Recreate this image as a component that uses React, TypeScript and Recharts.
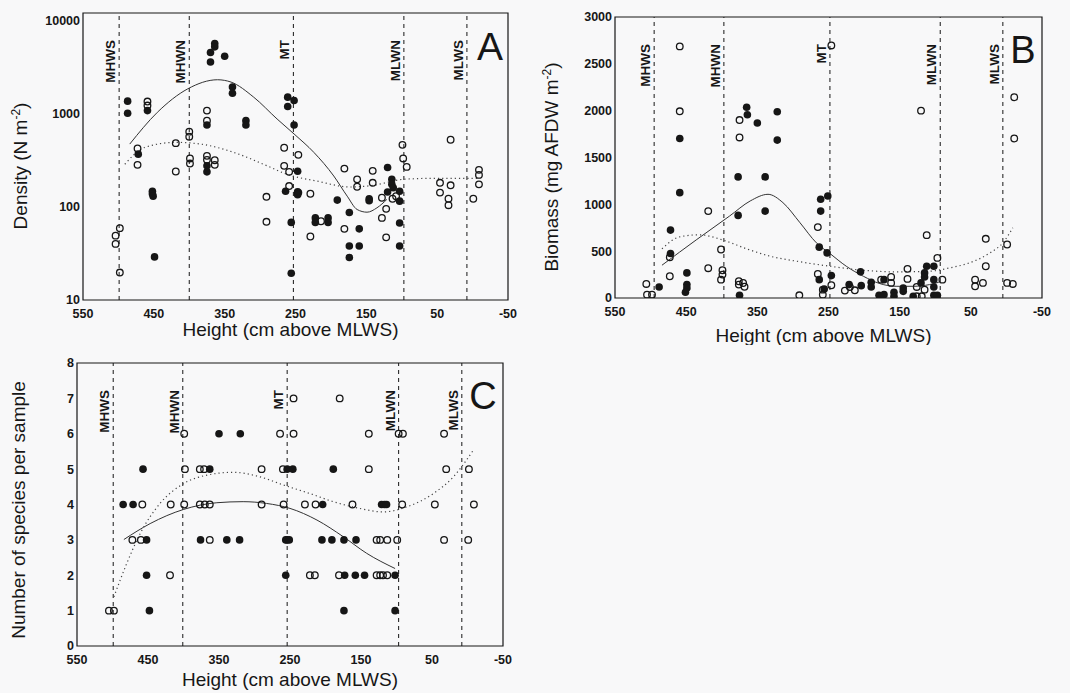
import React from 'react';
import { ComposedChart, Scatter, Line, XAxis, YAxis, ReferenceLine, ReferenceArea } from 'recharts';

const FONT = '"Liberation Sans", Arial, Helvetica, sans-serif';
const INK = '#161616';

type Pt = { h: number; v: number };
const pts = (arr: number[][]): Pt[] => arr.map(([h, v]) => ({ h, v }));

// ---- shared axis values ----
const heightTicks = [550, 450, 350, 250, 150, 50, -50];
const tideNames = ['MHWS', 'MHWN', 'MT', 'MLWN', 'MLWS'];
const tideA = [499, 400, 253, 97, 8];
const tideB = [495, 397, 248, 93, 5];
const tideC = [499, 401, 254, 97, 8];
const densityTicks = [10, 100, 1000, 10000];
const biomassTicks = [0, 500, 1000, 1500, 2000, 2500, 3000];
const speciesTicks = [0, 1, 2, 3, 4, 5, 6, 7, 8];

// ---- Panel A: density (height, N m-2) ----
const densityFilled = pts([
  [487, 1360], [487, 1010], [472, 367], [459, 1077], [452, 147], [452, 138], [451, 130], [449, 29],
  [375, 755], [375, 275], [375, 237], [370, 3580], [370, 4520], [364, 5650], [364, 5200], [350, 4120],
  [339, 1923], [339, 1655], [320, 840], [320, 755],
  [261, 1500], [261, 1190], [252, 1380], [252, 755], [264, 147], [256, 68], [256, 19.4], [247, 241],
  [247, 145], [247, 135], [222, 76], [222, 68], [204, 76], [204, 68], [191, 118], [174, 87], [174, 38],
  [174, 28.6], [160, 58], [160, 38], [146, 122], [146, 116], [120, 264], [120, 144], [114, 197],
  [114, 174], [112, 160], [103, 147], [103, 115], [103, 67], [103, 38],
]);
const densityOpen = pts([
  [504, 49], [504, 40], [498, 59], [498, 19.7], [473, 282], [473, 423], [459, 1347], [459, 1219],
  [419, 239], [419, 482], [400, 640], [400, 565], [399, 330], [399, 291],
  [375, 1077], [375, 840], [375, 352], [375, 319], [364, 316], [364, 282],
  [291, 128], [291, 69], [266, 430], [266, 275], [259, 237], [259, 167], [246, 361], [246, 142],
  [229, 138], [229, 48], [214, 70], [181, 257], [181, 58], [163, 164], [163, 197], [141, 243],
  [141, 181], [128, 125], [128, 76], [122, 95], [122, 47], [113, 122], [108, 130],
  [99, 462], [98, 330], [93, 268], [46, 181], [46, 142], [34, 122], [34, 104], [31, 524], [31, 170],
  [-1, 122], [-9, 249], [-9, 220], [-9, 174],
]);
const densitySolidFit = pts([
  [484, 471], [445, 1032], [402, 1845], [360, 2307], [341, 2178], [309, 1500], [276, 875],
  [252, 604], [224, 383], [196, 214], [177, 130], [163, 93.5], [149, 87.5], [135, 97.5], [121, 120],
]);
const densityDottedFit = pts([
  [491, 286], [463, 433], [419, 491], [384, 471], [337, 383], [290, 275], [262, 223],
  [220, 189], [173, 163], [140, 170], [98, 197], [55, 202], [-10, 202],
]);

// ---- Panel B: biomass (height, mg AFDW m-2) ----
const biomassFilled = pts([
  [488, 118], [472, 725], [472, 475], [459, 1125], [459, 1703], [449, 268], [449, 143], [449, 107],
  [451, 61], [377, 882], [377, 1293], [375, 29], [365, 2036], [364, 1957], [350, 1868], [339, 1293],
  [339, 928], [322, 1989], [322, 1686], [261, 1054], [261, 928], [251, 1089], [263, 543], [252, 482],
  [263, 196], [256, 96], [246, 239], [221, 143], [204, 132], [205, 279], [190, 168], [190, 118],
  [179, 29], [172, 36], [172, 196], [158, 61], [158, 18], [145, 107], [145, 71], [131, 18], [120, 161],
  [115, 268], [115, 225], [112, 339], [102, 339], [102, 196], [102, 118], [102, 29], [97, 29],
]);
const biomassOpen = pts([
  [506, 150], [505, 36], [498, 36], [459, 2686], [459, 1993], [473, 435], [473, 232], [419, 928],
  [419, 318], [401, 518], [401, 196], [399, 296], [399, 250], [375, 1900], [375, 1714], [376, 179],
  [376, 143], [370, 160], [368, 120], [291, 29], [265, 757], [265, 257], [258, 89], [258, 36],
  [246, 2696], [246, 136], [227, 79], [220, 118], [213, 82], [176, 196], [162, 225], [162, 161],
  [139, 311], [139, 204], [126, 118], [126, 18], [120, 2000], [119, 18], [112, 671], [115, 89],
  [97, 428], [90, 196], [44, 196], [44, 125], [33, 161], [29, 632], [29, 339], [-1, 571], [-1, 161],
  [-9, 150], [-11, 2143], [-11, 1703],
]);
const biomassSolidFit = pts([
  [484, 350], [435, 625], [389, 875], [360, 1036], [335, 1107], [314, 1018], [290, 803], [267, 589],
  [248, 475], [225, 339], [201, 232], [178, 154], [155, 125], [131, 125], [108, 143], [95, 168],
]);
const biomassDottedFit = pts([
  [484, 525], [459, 653], [431, 675], [398, 618], [365, 525], [332, 446], [295, 393], [248, 339],
  [201, 296], [155, 279], [108, 286], [80, 321], [52, 375], [23, 482], [5, 589], [-9, 750],
]);

// ---- Panel C: number of species per sample ----
const speciesFilled = pts([
  [485, 4], [471, 4], [457, 5], [452, 3], [452, 2], [448, 1], [376, 3], [363, 5], [350, 6], [339, 3],
  [321, 3], [320, 6], [256, 3], [254, 3], [251, 3], [256, 2], [254, 5], [246, 5], [204, 4], [205, 3],
  [191, 3], [189, 5], [174, 3], [174, 1], [173, 2], [157, 3], [158, 2], [145, 2], [121, 4], [117, 4],
  [114, 4], [102, 2], [102, 1],
]);
const speciesOpen = pts([
  [505, 1], [498, 1], [472, 3], [460, 3], [458, 4], [419, 2], [418, 4], [399, 4], [399, 6], [398, 5],
  [377, 5], [371, 5], [377, 4], [370, 4], [363, 4], [363, 3], [290, 5], [290, 4], [264, 6], [260, 5],
  [259, 4], [245, 7], [245, 6], [229, 4], [222, 2], [215, 2], [214, 4], [181, 2], [180, 7], [162, 4],
  [139, 6], [139, 5], [128, 3], [123, 3], [113, 3], [128, 2], [123, 2], [119, 2], [113, 2], [99, 3],
  [97, 6], [91, 6], [92, 4], [46, 4], [33, 3], [33, 6], [30, 5], [-1, 3], [-2, 5], [-9, 4],
]);
const speciesSolidFit = pts([
  [484, 3.01], [447, 3.46], [400, 3.86], [353, 4.05], [316, 4.08], [283, 4.03], [250, 3.89],
  [212, 3.56], [175, 3.09], [142, 2.62], [102, 2.19],
]);
const speciesDottedFit = pts([
  [498, 1.39], [480, 2.33], [461, 3.18], [433, 4.03], [400, 4.59], [367, 4.83], [330, 4.91],
  [292, 4.78], [259, 4.55], [222, 4.31], [189, 4.08], [152, 3.89], [119, 3.79], [86, 3.93],
  [48, 4.31], [20, 4.78], [-8, 5.53],
]);

const tickStyle = { fontSize: 12.5, fontWeight: 700, fill: INK, fontFamily: FONT };

const filledDot = (props: any) => <circle cx={props.cx} cy={props.cy} r={3.8} fill={INK} />;
const openDot = (props: any) => (
  <circle cx={props.cx} cy={props.cy} r={3.3} fill="none" stroke={INK} strokeWidth={1.3} />
);

const tideLabel = (name: string) => (props: any) => {
  const vb = props.viewBox || { x: 0, y: 0, height: 0 };
  const x = vb.x - 4;
  const y = Math.min(vb.y, vb.y + (vb.height || 0)) + 27;
  return (
    <text x={x} y={y} transform={`rotate(-90 ${x} ${y})`} textAnchor="end" fontSize={13.5}
      fontWeight={700} fill={INK} fontFamily={FONT}>{name}</text>
  );
};

const letterLabel = (letter: string, size: number, dx: number, dy: number) => (props: any) => {
  const vb = props.viewBox || { x: 0, y: 0, width: 0 };
  return (
    <text x={vb.x + vb.width + dx} y={vb.y + dy} textAnchor="middle" fontSize={size}
      fill={INK} fontFamily={FONT}>{letter}</text>
  );
};

type PanelProps = {
  left: number; top: number; width: number; height: number;
  margin: { top: number; right: number; bottom: number; left: number };
  yAxisWidth: number; xAxisHeight: number;
  yScale: 'log' | 'linear'; yDomain: [number, number]; yTicks: number[];
  filled: Pt[]; open: Pt[]; solid: Pt[]; dotted: Pt[];
  tides: number[]; letter: string; letterSize: number; letterDx: number; letterDy: number;
  yTitleMain: string; yTitleSup: string | null; yTitleTail: string; yTitleX: number; yTitleY: number;
  xTitleDy: number; xTitleDx: number;
};

function Panel(p: PanelProps) {
  const xTitle = (props: any) => {
    const vb = props.viewBox || { x: 0, y: 0, width: 0 };
    return (
      <text x={vb.x + vb.width / 2 + p.xTitleDx} y={vb.y + p.xTitleDy} textAnchor="middle"
        fontSize={19} fill={INK} fontFamily={FONT}>Height (cm above MLWS)</text>
    );
  };
  const yTitle = () => (
    <text x={p.yTitleX} y={p.yTitleY} transform={`rotate(-90 ${p.yTitleX} ${p.yTitleY})`}
      textAnchor="middle" fontSize={19} fill={INK} fontFamily={FONT}>
      {p.yTitleMain}
      {p.yTitleSup ? <tspan dy={-7} fontSize={12}>{p.yTitleSup}</tspan> : null}
      {p.yTitleSup ? <tspan dy={7}>{p.yTitleTail}</tspan> : null}
    </text>
  );
  return (
    <div style={{ position: 'absolute', left: p.left, top: p.top, width: p.width, height: p.height }}>
      <ComposedChart width={p.width} height={p.height} margin={p.margin}>
        <XAxis type="number" dataKey="h" domain={[-50, 550]} reversed ticks={heightTicks} interval={0}
          allowDataOverflow tickLine={false} axisLine={false} height={p.xAxisHeight} tick={tickStyle}
          tickSize={6} tickMargin={3} label={xTitle} />
        <YAxis type="number" dataKey="v" scale={p.yScale} domain={p.yDomain} ticks={p.yTicks} interval={0}
          allowDataOverflow tickLine={false} axisLine={false} width={p.yAxisWidth} tick={tickStyle}
          tickSize={3} tickMargin={0} label={yTitle} />
        <ReferenceArea x1={550} x2={-50} y1={p.yDomain[0]} y2={p.yDomain[1]} fill="none" fillOpacity={0}
          stroke={INK} strokeWidth={1.2} ifOverflow="visible"
          label={letterLabel(p.letter, p.letterSize, p.letterDx, p.letterDy)} />
        {p.tides.map((t, i) => (
          <ReferenceLine key={tideNames[i]} x={t} stroke={INK} strokeWidth={1} strokeDasharray="4 4"
            label={tideLabel(tideNames[i])} />
        ))}
        <Scatter data={p.filled} dataKey="v" shape={filledDot} isAnimationActive={false} />
        <Scatter data={p.open} dataKey="v" shape={openDot} isAnimationActive={false} />
        <Line data={p.solid} dataKey="v" type="monotone" dot={false} activeDot={false} stroke="#333"
          strokeWidth={1} isAnimationActive={false} />
        <Line data={p.dotted} dataKey="v" type="monotone" dot={false} activeDot={false} stroke="#444"
          strokeWidth={1.2} strokeDasharray="1.2 3" isAnimationActive={false} />
      </ComposedChart>
    </div>
  );
}

export default function App() {
  return (
    <div style={{ position: 'absolute', left: 0, top: 0, width: 1070, height: 693, background: '#f8f8f9', overflow: 'hidden' }}>
      <Panel left={0} top={0} width={530} height={345}
        margin={{ top: 13, right: 22, bottom: 0, left: 0 }} yAxisWidth={83} xAxisHeight={45}
        yScale="log" yDomain={[10, 12000]} yTicks={densityTicks}
        filled={densityFilled} open={densityOpen} solid={densitySolidFit} dotted={densityDottedFit}
        tides={tideA} letter="A" letterSize={39} letterDx={-18} letterDy={47}
        yTitleMain="Density (N m" yTitleSup="-2" yTitleTail=")" yTitleX={27} yTitleY={166}
        xTitleDy={36} xTitleDx={-5} />
      <Panel left={530} top={0} width={540} height={345}
        margin={{ top: 17, right: 28, bottom: 0, left: 0 }} yAxisWidth={85} xAxisHeight={47}
        yScale="linear" yDomain={[0, 3000]} yTicks={biomassTicks}
        filled={biomassFilled} open={biomassOpen} solid={biomassSolidFit} dotted={biomassDottedFit}
        tides={tideB} letter="B" letterSize={38} letterDx={-19} letterDy={46}
        yTitleMain="Biomass (mg AFDW m" yTitleSup="-2" yTitleTail=")" yTitleX={28} yTitleY={167}
        xTitleDy={44} xTitleDx={-5} />
      <Panel left={0} top={345} width={530} height={348}
        margin={{ top: 18, right: 27, bottom: 0, left: 0 }} yAxisWidth={77} xAxisHeight={47}
        yScale="linear" yDomain={[0, 8]} yTicks={speciesTicks}
        filled={speciesFilled} open={speciesOpen} solid={speciesSolidFit} dotted={speciesDottedFit}
        tides={tideC} letter="C" letterSize={38} letterDx={-20} letterDy={46}
        yTitleMain="Number of species per sample" yTitleSup={null} yTitleTail="" yTitleX={25} yTitleY={165}
        xTitleDy={40} xTitleDx={0} />
    </div>
  );
}
